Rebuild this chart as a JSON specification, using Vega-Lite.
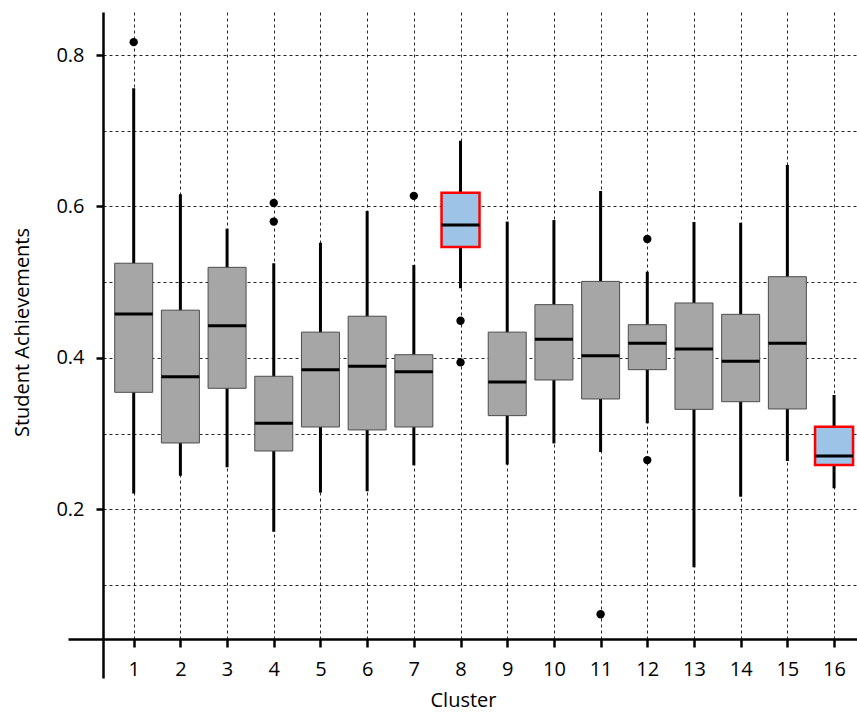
{
  "$schema": "https://vega.github.io/schema/vega-lite/v6.json",
  "autosize": {"type": "none"},
  "padding": {"left": 103, "top": 12, "right": 0, "bottom": 74},
  "width": 754,
  "height": 627,
  "background": "white",
  "config": {
    "view": {"stroke": null},
    "font": "Open Sans"
  },
  "datasets": {
    "boxes": [
      {"cluster": 1, "lower": 0.221, "q1": 0.3545, "median": 0.458, "q3": 0.525, "upper": 0.756, "hl": "no"},
      {"cluster": 2, "lower": 0.2444, "q1": 0.2876, "median": 0.375, "q3": 0.463, "upper": 0.616, "hl": "no"},
      {"cluster": 3, "lower": 0.2555, "q1": 0.3598, "median": 0.4425, "q3": 0.5196, "upper": 0.5706, "hl": "no"},
      {"cluster": 4, "lower": 0.1705, "q1": 0.277, "median": 0.3136, "q3": 0.3757, "upper": 0.525, "hl": "no"},
      {"cluster": 5, "lower": 0.222, "q1": 0.3087, "median": 0.3844, "q3": 0.434, "upper": 0.552, "hl": "no"},
      {"cluster": 6, "lower": 0.2238, "q1": 0.3048, "median": 0.389, "q3": 0.455, "upper": 0.594, "hl": "no"},
      {"cluster": 7, "lower": 0.2581, "q1": 0.3087, "median": 0.3818, "q3": 0.4042, "upper": 0.5227, "hl": "no"},
      {"cluster": 8, "lower": 0.4919, "q1": 0.5464, "median": 0.5755, "q3": 0.618, "upper": 0.6868, "hl": "yes"},
      {"cluster": 9, "lower": 0.259, "q1": 0.3237, "median": 0.368, "q3": 0.434, "upper": 0.58, "hl": "no"},
      {"cluster": 10, "lower": 0.287, "q1": 0.3708, "median": 0.4245, "q3": 0.4703, "upper": 0.582, "hl": "no"},
      {"cluster": 11, "lower": 0.2757, "q1": 0.3457, "median": 0.4029, "q3": 0.501, "upper": 0.6204, "hl": "no"},
      {"cluster": 12, "lower": 0.3136, "q1": 0.3844, "median": 0.4192, "q3": 0.4438, "upper": 0.5138, "hl": "no"},
      {"cluster": 13, "lower": 0.1234, "q1": 0.332, "median": 0.4117, "q3": 0.4725, "upper": 0.5795, "hl": "no"},
      {"cluster": 14, "lower": 0.2167, "q1": 0.3421, "median": 0.3955, "q3": 0.4575, "upper": 0.5785, "hl": "no"},
      {"cluster": 15, "lower": 0.2638, "q1": 0.3325, "median": 0.4192, "q3": 0.5072, "upper": 0.6547, "hl": "no"},
      {"cluster": 16, "lower": 0.2278, "q1": 0.2585, "median": 0.2704, "q3": 0.3091, "upper": 0.351, "hl": "yes"}
    ],
    "outliers": [
      {"cluster": 1, "value": 0.817},
      {"cluster": 4, "value": 0.6045},
      {"cluster": 4, "value": 0.58},
      {"cluster": 7, "value": 0.614},
      {"cluster": 8, "value": 0.449},
      {"cluster": 8, "value": 0.394},
      {"cluster": 11, "value": 0.0614},
      {"cluster": 12, "value": 0.557},
      {"cluster": 12, "value": 0.265}
    ]
  },
  "encoding": {
    "x": {
      "field": "cluster",
      "type": "quantitative",
      "scale": {"domain": [0.3425, 16.4915], "nice": false, "zero": false, "padding": 0},
      "axis": {
        "title": "Cluster",
        "titleFont": "Open Sans",
        "titleFontSize": 20,
        "titleFontWeight": "normal",
        "titleColor": "#000",
        "titleX": 360,
        "titleY": 67,
        "titleBaseline": "alphabetic",
        "values": [0.3425, 1, 2, 3, 4, 5, 6, 7, 8, 9, 10, 11, 12, 13, 14, 15, 16],
        "labelExpr": "datum.value < 0.9 ? '' : datum.label",
        "format": "d",
        "labelFont": "Open Sans",
        "labelFontSize": 20,
        "labelColor": "#000",
        "labelPadding": 12,
        "labelFlush": false,
        "labelOverlap": false,
        "domainColor": "#000",
        "domainWidth": 2.5,
        "tickColor": "#000",
        "tickWidth": 2.5,
        "tickSize": {"condition": {"test": "datum.value < 0.9", "value": 39}, "value": 8},
        "grid": true,
        "gridColor": "#000",
        "gridWidth": 1,
        "gridDash": [3, 3],
        "gridOpacity": {"condition": {"test": "datum.value < 0.9", "value": 0}, "value": 0.85}
      }
    }
  },
  "layer": [
    {
      "data": {"name": "boxes"},
      "mark": {"type": "rule", "strokeWidth": 3, "color": "#000"},
      "encoding": {
        "y": {
          "field": "lower",
          "type": "quantitative",
          "scale": {"domain": [0.0287, 0.8568], "nice": false, "zero": false, "padding": 0},
          "axis": {
            "title": "Student Achievements",
            "titleFont": "Open Sans",
            "titleFontSize": 20,
            "titleFontWeight": "normal",
            "titleColor": "#000",
            "titleY": 320,
            "titlePadding": 23,
            "values": [0.0287, 0.1, 0.2, 0.3, 0.4, 0.5, 0.6, 0.7, 0.8],
            "format": ".1f",
            "labelExpr": "indexof(['0.2','0.4','0.6','0.8'], datum.label) >= 0 ? datum.label : ''",
            "labelFont": "Open Sans",
            "labelFontSize": 20,
            "labelColor": "#000",
            "labelPadding": 12,
            "labelFlush": false,
            "labelOverlap": false,
            "domainColor": "#000",
            "domainWidth": 2.5,
            "tickColor": "#000",
            "tickWidth": 2.5,
            "tickSize": {"condition": [{"test": "datum.value < 0.05", "value": 35}, {"test": "indexof(['0.2','0.4','0.6','0.8'], datum.label) < 0", "value": 0}], "value": 7},
            "grid": true,
            "gridColor": "#000",
            "gridWidth": 1,
            "gridDash": [3, 3],
            "gridOpacity": {"condition": {"test": "datum.value < 0.05", "value": 0}, "value": 0.85}
          }
        },
        "y2": {"field": "upper"}
      }
    },
    {
      "data": {"name": "boxes"},
      "mark": {"type": "bar", "size": 38},
      "encoding": {
        "y": {"field": "q1", "type": "quantitative"},
        "y2": {"field": "q3"},
        "fill": {"field": "hl", "type": "nominal", "scale": {"domain": ["no", "yes"], "range": ["#a6a6a6", "#9dc3e6"]}, "legend": null},
        "stroke": {"field": "hl", "type": "nominal", "scale": {"domain": ["no", "yes"], "range": ["#4d4d4d", "#ff0000"]}, "legend": null},
        "strokeWidth": {"field": "hl", "type": "nominal", "scale": {"domain": ["no", "yes"], "range": [1, 2.5]}, "legend": null}
      }
    },
    {
      "data": {"name": "boxes"},
      "mark": {"type": "tick", "orient": "horizontal", "size": 38, "thickness": 3, "color": "#000", "opacity": 1},
      "encoding": {
        "y": {"field": "median", "type": "quantitative"}
      }
    },
    {
      "data": {"name": "outliers"},
      "mark": {"type": "point", "filled": true, "size": 70, "color": "#000", "opacity": 1},
      "encoding": {
        "y": {"field": "value", "type": "quantitative"}
      }
    }
  ]
}
